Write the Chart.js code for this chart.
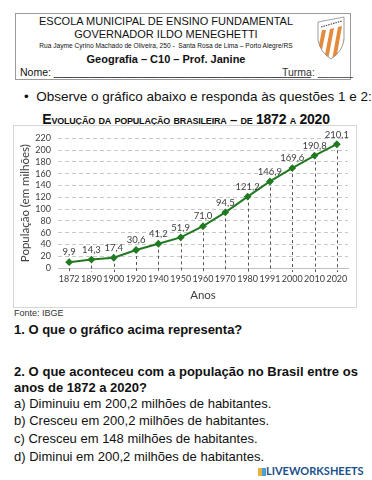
<!DOCTYPE html>
<html>
<head>
<meta charset="utf-8">
<script src="https://cdn.jsdelivr.net/npm/chart.js@4"></script>
<style>
  body { margin: 0; background: #fff; font-family: "Liberation Sans", Arial, sans-serif; color: #111; }
  .page { position: relative; width: 372px; height: 480px; overflow: hidden; }
  .abs { position: absolute; white-space: nowrap; }
  .header { position: absolute; left: 15px; top: 13px; width: 334px; height: 65px; border: 1px solid #9a9a9a; }
  .hl { position: absolute; left: 0; width: 300px; text-align: center; }
  .box { position: absolute; left: 13px; top: 125px; width: 342px; height: 181px; border: 1px solid #d6d6d6; }
  .title { left: 0; width: 372px; top: 111px; text-align: center; font-weight: bold; font-size: 13px; font-variant: small-caps; letter-spacing: -0.2px; }
  .q { font-size: 13px; }
  .just { position: absolute; left: 14px; width: 344px; text-align: justify; text-align-last: justify; white-space: nowrap; }
</style>
</head>
<body>
<div class="page">
  <div class="header">
    <div class="hl" style="top:1px;font-size:11px;">ESCOLA MUNICIPAL DE ENSINO FUNDAMENTAL</div>
    <div class="hl" style="top:14px;font-size:11px;">GOVERNADOR ILDO MENEGHETTI</div>
    <div class="hl" style="top:28px;font-size:6.6px;">Rua Jayme Cyrino Machado de Oliveira, 250 -&nbsp; Santa Rosa de Lima – Porto Alegre/RS</div>
    <div class="hl" style="top:39px;font-size:11px;font-weight:bold;">Geografia – C10 – Prof. Janine</div>
    <div class="abs" style="left:4px;top:52px;font-size:10.5px;">Nome: ____________________________________________</div>
    <div class="abs" style="left:266px;top:52px;font-size:10.5px;color:#333;">Turma: ______</div>
    <svg class="abs" style="left:300px;top:2px;" width="30" height="44" viewBox="0 0 30 44">
      <defs><clipPath id="sh"><path d="M2 6 L28 1 L28 24 Q26 36 15 43 Q4 36 2 24 Z"/></clipPath></defs>
      <g clip-path="url(#sh)">
        <rect x="0" y="0" width="30" height="44" fill="#fff"/>
        <path d="M6 14 L10 14 L4 44 L0 44 Z M14 13 L18 12 L12 44 L8 44 Z M22 11 L26 10 L20 44 L16 44 Z M30 10 L30 14 L28 44 L24 44 Z" fill="#e58a3a"/>
        <path d="M2 6 L28 1 L28 9 L2 14 Z" fill="#fff"/>
        <path d="M5 11 L26 5" stroke="#555" stroke-width="1.2" stroke-dasharray="1.5 1"/>
      </g>
      <path d="M2 6 L28 1 L28 24 Q26 36 15 43 Q4 36 2 24 Z" fill="none" stroke="#888" stroke-width="0.8"/>
    </svg>
  </div>
  <div class="abs q" style="left:24px;top:89px;font-size:13.5px;">•&nbsp;&nbsp;Observe o gráfico abaixo e responda às questões 1 e 2:</div>
  <div class="abs title"><span style="font-size:14px;">E</span>volução da população brasileira – de <span style="font-size:14px;font-variant:normal;">1872</span> a <span style="font-size:14px;font-variant:normal;">2020</span></div>
  <div class="box"><canvas id="chart" width="342" height="181"></canvas></div>
  <div class="abs" style="left:14px;top:308px;font-size:9px;color:#333;">Fonte: IBGE</div>
  <div class="abs" style="left:14px;top:322px;font-size:13px;font-weight:bold;">1. O que o gráfico acima representa?</div>
  <div class="just" style="top:364px;font-size:13px;font-weight:bold;">2. O que aconteceu com a população no Brasil entre os</div>
  <div class="abs" style="left:14px;top:380px;font-size:13px;font-weight:bold;">anos de 1872 a 2020?</div>
  <div class="abs q" style="left:14px;top:396px;">a) Diminuiu em 200,2 milhões de habitantes.</div>
  <div class="abs q" style="left:14px;top:413px;">b) Cresceu em 200,2 milhões de habitantes.</div>
  <div class="abs q" style="left:14px;top:431px;">c) Cresceu em 148 milhões de habitantes.</div>
  <div class="abs q" style="left:14px;top:449px;">d) Diminui em 200,2 milhões de habitantes.</div>
  <div class="abs" style="left:258px;top:464px;font-size:11px;font-weight:bold;font-family:Lato, sans-serif;color:#1b4f8a;">
    <span style="display:inline-block;width:8px;height:8px;background:linear-gradient(90deg,#e7b13a 50%,#4aa0d8 50%);vertical-align:-1px;"></span>LIVEWORKSHEETS</div>
</div>
<script>
const years = ['1872', '1890', '1900', '1920', '1940', '1950', '1960', '1970', '1980', '1991', '2000', '2010', '2020'];
const population = [9.9, 14.3, 17.4, 30.6, 41.2, 51.9, 71.0, 94.5, 121.2, 146.9, 169.6, 190.8, 210.1];
const yTicks = [0, 20, 40, 60, 80, 100, 120, 140, 160, 180, 200, 220];

const green = '#217a21';

// dashed drop lines and value labels
const dropLines = {
    id: 'dropLines',
    beforeDatasetsDraw(chart) {
        const ctx = chart.ctx;
        const x = chart.scales.x, y = chart.scales.y;
        ctx.save();
        ctx.strokeStyle = '#555';
        ctx.lineWidth = 1;
        ctx.setLineDash([3, 3]);
        population.forEach((v, i) => {
            const px = Math.round(x.getPixelForValue(i)) + 0.5;
            ctx.beginPath();
            ctx.moveTo(px, y.getPixelForValue(v));
            ctx.lineTo(px, y.getPixelForValue(0) + 4);
            ctx.stroke();
        });
        ctx.restore();
    },
    afterDatasetsDraw(chart) {
        const ctx = chart.ctx;
        const x = chart.scales.x, y = chart.scales.y;
        ctx.save();
        ctx.font = '9.5px Lato, sans-serif';
        ctx.fillStyle = '#404040';
        ctx.textAlign = 'center';
        ctx.textBaseline = 'bottom';
        population.forEach((v, i) => {
            ctx.fillText(v.toFixed(1).replace('.', ','), x.getPixelForValue(i), y.getPixelForValue(v) - 5);
        });
        ctx.restore();
    }
};

new Chart(document.getElementById('chart'), {
    type: 'line',
    data: {
        labels: years,
        datasets: [{
            data: population,
            borderColor: green,
            backgroundColor: green,
            borderWidth: 2,
            pointStyle: 'rectRot',
            pointRadius: 2.5,
            tension: 0
        }]
    },
    options: {
        responsive: false,
        animation: false,
        plugins: { legend: { display: false }, tooltip: { enabled: false } },
        layout: { padding: { top: 8, right: 8, left: 0, bottom: 0 } },
        scales: {
            x: {
                offset: true,
                afterFit: axis => { axis.height = 39; },
                grid: { display: false, drawTicks: false },
                border: { display: true, color: '#bfbfbf' },
                ticks: { color: '#404040', font: { family: 'Lato', size: 9 }, maxRotation: 0, autoSkip: false, padding: 6 },
                title: { display: true, text: 'Anos', color: '#404040', font: { family: 'Lato', size: 11.5 }, padding: { top: 3, bottom: 5 } }
            },
            y: {
                min: 0,
                max: 220,
                afterFit: axis => { axis.width = 44; },
                afterBuildTicks: axis => { axis.ticks = yTicks.map(v => ({ value: v })); },
                grid: { color: '#c8c8c8', drawTicks: false },
                border: { display: false, dash: [4, 3] },
                ticks: { color: '#404040', font: { family: 'Lato', size: 9 }, padding: 7, autoSkip: false },
                title: { display: true, text: 'População (em milhões)', color: '#404040', font: { family: 'Lato', size: 11.5 }, padding: { top: 4, bottom: 4 } }
            }
        }
    },
    plugins: [dropLines]
});
</script>
</body>
</html>
